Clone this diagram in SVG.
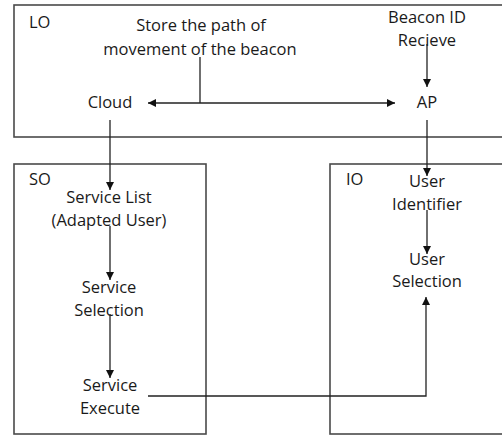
<svg xmlns="http://www.w3.org/2000/svg" width="502" height="435" viewBox="0 0 502 435">
<style>
text{font-family:"Open Sans","Liberation Sans",sans-serif;font-size:16.5px;fill:#1a1a1a;text-anchor:middle}
.lbl{text-anchor:start}
.box{fill:none;stroke:#4a4a4a;stroke-width:1.6}
.c{fill:none;stroke:#222;stroke-width:1.3}
</style>
<defs>
<marker id="ah" viewBox="0 0 10 10" refX="10" refY="5" markerWidth="8" markerHeight="8" markerUnits="userSpaceOnUse" orient="auto-start-reverse">
<path d="M0,0 L10,5 L0,10 z" fill="#111"/>
</marker>
</defs>
<rect width="502" height="435" fill="#fff"/>
<g id="LO"><rect class="box" x="14" y="5" width="492" height="132"/><text class="lbl" x="29" y="28">LO</text></g>
<g id="SO"><rect class="box" x="14" y="164" width="192" height="270"/><text class="lbl" x="29" y="185">SO</text></g>
<g id="IO"><rect class="box" x="330" y="164" width="180" height="270"/><text class="lbl" x="346" y="185">IO</text></g>
<g id="store"><text x="201" y="31">Store the path of</text><text x="200" y="55">movement of the beacon</text></g>
<g id="beacon"><text x="427" y="23">Beacon ID</text><text x="427" y="46">Recieve</text></g>
<g id="cloud"><text x="110" y="108">Cloud</text></g>
<g id="ap"><text x="427" y="108">AP</text></g>
<g id="servicelist"><text x="109" y="203">Service List</text><text x="109" y="226">(Adapted User)</text></g>
<g id="serviceselection"><text x="109" y="293">Service</text><text x="109" y="316">Selection</text></g>
<g id="serviceexecute"><text x="110" y="391">Service</text><text x="110" y="414">Execute</text></g>
<g id="useridentifier"><text x="427" y="187">User</text><text x="427" y="210">Identifier</text></g>
<g id="userselection"><text x="427" y="265">User</text><text x="427" y="287">Selection</text></g>
<g id="connectors">
<line class="c" x1="148" y1="103" x2="395" y2="103" marker-start="url(#ah)" marker-end="url(#ah)"/>
<line class="c" x1="200" y1="57" x2="200" y2="103"/>
<line class="c" x1="427" y1="44" x2="427" y2="87" marker-end="url(#ah)"/>
<line class="c" x1="427" y1="120" x2="427" y2="176" marker-end="url(#ah)"/>
<line class="c" x1="110" y1="120" x2="110" y2="190" marker-end="url(#ah)"/>
<line class="c" x1="110" y1="226" x2="110" y2="280" marker-end="url(#ah)"/>
<line class="c" x1="110" y1="314" x2="110" y2="378" marker-end="url(#ah)"/>
<line class="c" x1="427" y1="210" x2="427" y2="254" marker-end="url(#ah)"/>
<polyline class="c" points="148,396 426,396 426,297" marker-end="url(#ah)"/>
</g>
</svg>
